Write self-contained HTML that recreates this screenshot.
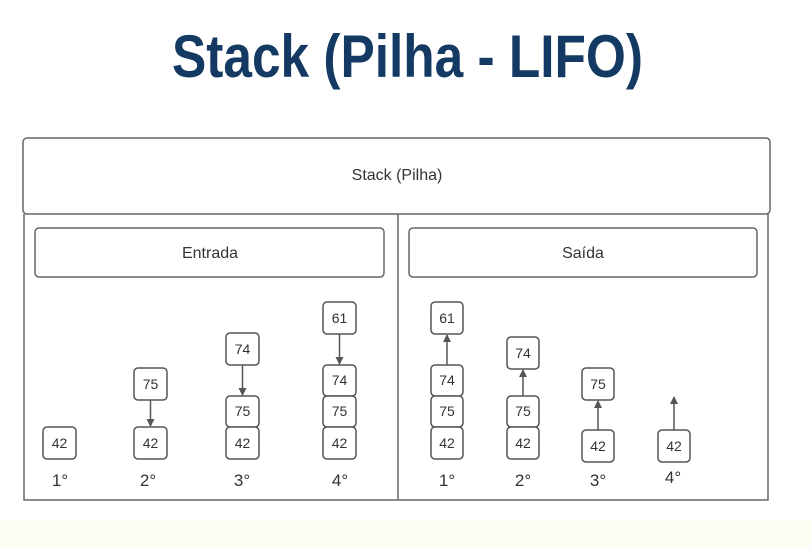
<!DOCTYPE html>
<html><head><meta charset="utf-8"><style>
html,body{margin:0;padding:0;background:#fff;}
svg{display:block;}
</style></head><body>
<svg width="811" height="549" viewBox="0 0 811 549" xmlns="http://www.w3.org/2000/svg" font-family="Liberation Sans, sans-serif">
<defs>
<marker id="a" markerWidth="8" markerHeight="8" refX="7" refY="4" orient="auto" markerUnits="userSpaceOnUse">
<path d="M0,0 L8,4 L0,8 z" fill="#555"/></marker>
</defs>
<rect x="0" y="520" width="811" height="29" fill="#fcfcf5"/>
<text x="172" y="77" font-size="60" font-weight="bold" fill="#143a63" textLength="471" lengthAdjust="spacingAndGlyphs">Stack (Pilha - LIFO)</text>
<g fill="none" stroke="#666" stroke-width="1.5">
<rect x="23" y="138" width="747" height="76" rx="4"/>
<path d="M24 214 V500 H768 V214 M398 214 V500"/>
<rect x="35" y="228" width="349" height="49" rx="4"/>
<rect x="409" y="228" width="348" height="49" rx="4"/>
</g>
<g font-size="16" fill="#333" text-anchor="middle">
<text x="397" y="180">Stack (Pilha)</text>
<text x="210" y="258">Entrada</text>
<text x="583" y="258">Saída</text>
</g>
<g fill="#fff" stroke="#555" stroke-width="1.5">
<rect x="43" y="427" width="33" height="32" rx="4"/>
<rect x="134" y="368" width="33" height="32" rx="4"/>
<rect x="134" y="427" width="33" height="32" rx="4"/>
<rect x="226" y="333" width="33" height="32" rx="4"/>
<rect x="226" y="396" width="33" height="31" rx="4"/>
<rect x="226" y="427" width="33" height="32" rx="4"/>
<rect x="323" y="302" width="33" height="32" rx="4"/>
<rect x="323" y="365" width="33" height="31" rx="4"/>
<rect x="323" y="396" width="33" height="31" rx="4"/>
<rect x="323" y="427" width="33" height="32" rx="4"/>
<rect x="431" y="302" width="32" height="32" rx="4"/>
<rect x="431" y="365" width="32" height="31" rx="4"/>
<rect x="431" y="396" width="32" height="31" rx="4"/>
<rect x="431" y="427" width="32" height="32" rx="4"/>
<rect x="507" y="337" width="32" height="32" rx="4"/>
<rect x="507" y="396" width="32" height="31" rx="4"/>
<rect x="507" y="427" width="32" height="32" rx="4"/>
<rect x="582" y="368" width="32" height="32" rx="4"/>
<rect x="582" y="430" width="32" height="32" rx="4"/>
<rect x="658" y="430" width="32" height="32" rx="4"/>
</g>
<g stroke="#555" stroke-width="1.5" marker-end="url(#a)">
<line x1="150.5" y1="400" x2="150.5" y2="426"/>
<line x1="242.5" y1="365" x2="242.5" y2="395"/>
<line x1="339.5" y1="334" x2="339.5" y2="364"/>
<line x1="447" y1="365" x2="447" y2="335"/>
<line x1="523" y1="396" x2="523" y2="370"/>
<line x1="598" y1="430" x2="598" y2="401"/>
<line x1="674" y1="430" x2="674" y2="397"/>
</g>
<g font-size="14" fill="#333" text-anchor="middle">
<text x="59.5" y="448">42</text>
<text x="150.5" y="389">75</text><text x="150.5" y="448">42</text>
<text x="242.5" y="354">74</text><text x="242.5" y="416">75</text><text x="242.5" y="448">42</text>
<text x="339.5" y="323">61</text><text x="339.5" y="385">74</text><text x="339.5" y="416">75</text><text x="339.5" y="448">42</text>
<text x="447" y="323">61</text><text x="447" y="385">74</text><text x="447" y="416">75</text><text x="447" y="448">42</text>
<text x="523" y="358">74</text><text x="523" y="416">75</text><text x="523" y="448">42</text>
<text x="598" y="389">75</text><text x="598" y="451">42</text>
<text x="674" y="451">42</text>
</g>
<g font-size="17" fill="#333" text-anchor="middle">
<text x="60" y="486">1°</text><text x="148" y="486">2°</text><text x="242" y="486">3°</text><text x="340" y="486">4°</text>
<text x="447" y="486">1°</text><text x="523" y="486">2°</text><text x="598" y="486">3°</text><text x="673" y="483">4°</text>
</g>
</svg>
</body></html>
